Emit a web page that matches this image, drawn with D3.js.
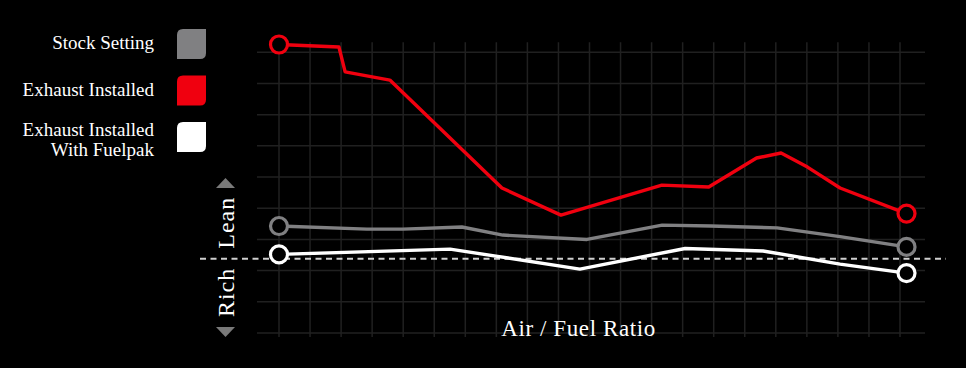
<!DOCTYPE html>
<html>
<head>
<meta charset="utf-8">
<script src="https://cdn.jsdelivr.net/npm/d3@7"></script>
<style>
  html, body { margin: 0; padding: 0; background: #000; }
  svg { display: block; }
  text { font-family: "Liberation Serif", "DejaVu Serif", serif; }
</style>
</head>
<body>
<div id="wrapper"></div>
<script>
// series, x in grid steps (0..20), y in grid steps above the bottom line
const stockX = [0, 2.83, 3.99, 5.89, 7.21, 9.92, 12.34, 13.91, 16.04, 18.07, 20.21]
const stockY = [3.43, 3.33, 3.33, 3.40, 3.14, 3.00, 3.46, 3.43, 3.37, 3.09, 2.76]

const exhaustX = [0, 1.93, 2.13, 3.57, 7.18, 9.08, 12.33, 13.84, 15.38, 16.17, 17.02, 18.07, 20.21]
const exhaustY = [9.25, 9.17, 8.37, 8.11, 4.65, 3.78, 4.74, 4.68, 5.61, 5.77, 5.32, 4.65, 3.83]

const fuelpakX = [0, 5.51, 9.69, 13.08, 15.59, 18.07, 20.21]
const fuelpakY = [2.52, 2.69, 2.05, 2.71, 2.63, 2.21, 1.92]

const targetY = 2.38

const legendLabels = [["Stock Setting"], ["Exhaust Installed"], ["Exhaust Installed", "With Fuelpak"]]
const colors = ["#808082", "#f0000f", "#ffffff"]

function drawChart() {
  const dimensions = { width: 966, height: 368 }

  const wrapper = d3.select("#wrapper")
    .append("svg")
      .attr("width", dimensions.width)
      .attr("height", dimensions.height)
      .style("background", "#000")

  const xScale = d3.scaleLinear().domain([0, 20]).range([279, 900])
  const yScale = d3.scaleLinear().domain([0, 9]).range([333, 52.3])

  // grid
  const grid = wrapper.append("g")
      .attr("stroke", "#202020")
      .attr("stroke-width", 1.5)
  grid.selectAll(".v").data(d3.range(0, 21)).join("line")
      .attr("x1", d => xScale(d)).attr("x2", d => xScale(d))
      .attr("y1", yScale(9) - 10).attr("y2", yScale(0) + 4)
  grid.selectAll(".h").data(d3.range(0, 10)).join("line")
      .attr("x1", xScale(0) - 22).attr("x2", xScale(20) + 25)
      .attr("y1", d => yScale(d)).attr("y2", d => yScale(d))

  // target line
  wrapper.append("line")
      .attr("x1", 200).attr("x2", 946)
      .attr("y1", yScale(targetY)).attr("y2", yScale(targetY))
      .attr("stroke", "#d0d0d0")
      .attr("stroke-width", 2)
      .attr("stroke-dasharray", "6,4.5")

  const series = [
    { x: stockX, y: stockY, color: colors[0] },
    { x: exhaustX, y: exhaustY, color: colors[1] },
    { x: fuelpakX, y: fuelpakY, color: colors[2] },
  ]

  const lineGenerator = d3.line()
    .x(d => xScale(d[0]))
    .y(d => yScale(d[1]))

  series.forEach(s => {
    const pts = s.x.map((x, i) => [x, s.y[i]])
    wrapper.append("path")
        .attr("d", lineGenerator(pts))
        .attr("fill", "none")
        .attr("stroke", s.color)
        .attr("stroke-width", 3.4)
        .attr("stroke-linejoin", "round")
    wrapper.selectAll(null).data([pts[0], pts[pts.length - 1]]).join("circle")
        .attr("cx", d => xScale(d[0]))
        .attr("cy", d => yScale(d[1]))
        .attr("r", 8.5)
        .attr("fill", "#000")
        .attr("stroke", s.color)
        .attr("stroke-width", 3.2)
  })

  // legend
  const leafPath = (x, y, w, h, r) =>
    `M${x + r},${y} H${x + w} V${y + h - r} Q${x + w},${y + h} ${x + w - r},${y + h} H${x} V${y + r} Q${x},${y} ${x + r},${y} Z`

  const legend = wrapper.append("g")
  legendLabels.forEach((lines, i) => {
    const top = 29 + i * 46.5
    legend.append("path")
        .attr("d", leafPath(177, top, 29, 30, 6))
        .attr("fill", colors[i])
    const text = legend.append("text")
        .attr("text-anchor", "end")
        .attr("font-size", 19)
        .attr("fill", "#fff")
    lines.forEach((l, j) => {
      text.append("tspan")
          .attr("x", 154)
          .attr("y", lines.length > 1 ? top + 14 + j * 20 : top + 20)
          .text(l)
    })
  })

  // rich / lean indicator
  const ty = yScale(targetY)
  const sideLabel = (label, anchor, y) => wrapper.append("text")
      .attr("transform", `translate(234, ${y}) rotate(-90)`)
      .attr("text-anchor", anchor)
      .attr("font-size", 24)
      .attr("letter-spacing", 1)
      .attr("fill", "#fff")
      .text(label)
  sideLabel("Lean", "start", ty - 10)
  sideLabel("Rich", "end", ty + 9)

  wrapper.append("path")
      .attr("d", "M216,188 L225.5,178 L235,188 Z")
      .attr("fill", "#7a7a7a")
  wrapper.append("path")
      .attr("d", "M216,327 L225.5,337 L235,327 Z")
      .attr("fill", "#7a7a7a")

  // axis title
  wrapper.append("text")
      .attr("x", 578.5)
      .attr("y", 336)
      .attr("text-anchor", "middle")
      .attr("font-size", 23)
      .attr("letter-spacing", 0.6)
      .attr("fill", "#fff")
      .text("Air / Fuel Ratio")
}

drawChart()
</script>
</body>
</html>
